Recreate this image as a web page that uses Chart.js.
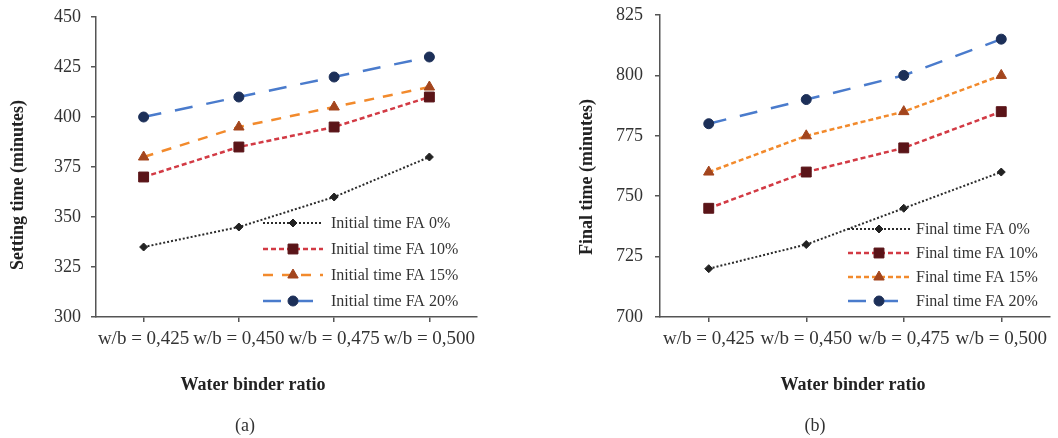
<!DOCTYPE html>
<html lang="en">
<head>
  <meta charset="UTF-8">
  <title>Setting time vs water binder ratio</title>
  <script src="https://cdn.jsdelivr.net/npm/chart.js"></script>
  <style>
    body { margin: 0; background: #fff; }
    .wrap { position: relative; width: 1058px; height: 438px; }
    canvas { position: absolute; top: 0; }
    #chartA { left: 0; }
    #chartB { left: 530px; }
  </style>
</head>
<body>
  <div class="wrap">
    <canvas id="chartA" width="530" height="438"></canvas>
    <canvas id="chartB" width="528" height="438"></canvas>
  </div>

  <script>
    // data
    const ratios = ['w/b = 0,425', 'w/b = 0,450', 'w/b = 0,475', 'w/b = 0,500'];

    const initialFA0 = [335, 345, 360, 380];
    const initialFA10 = [370, 385, 395, 410];
    const initialFA15 = [380, 395, 405, 415];
    const initialFA20 = [400, 410, 420, 430];

    const finalFA0 = [720, 730, 745, 760];
    const finalFA10 = [745, 760, 770, 785];
    const finalFA15 = [760, 775, 785, 800];
    const finalFA20 = [780, 790, 800, 815];

    const serif = "'Liberation Serif', 'Times New Roman', serif";
    const textColor = '#333';
    const axisColor = '#555';

    // line + marker look per fly ash level
    function seriesStyle(level, dash15) {
      const styles = {
        0: { borderColor: '#2b2b2b', borderDash: [2, 2], borderWidth: 2, pointStyle: 'rectRot', pointRadius: 4, pointBackgroundColor: '#222', pointBorderColor: '#222' },
        10: { borderColor: '#d23a44', borderDash: [5, 3], borderWidth: 2.5, pointStyle: 'rect', pointRadius: 7, pointBackgroundColor: '#5a1418', pointBorderColor: '#5a1418' },
        15: { borderColor: '#f28a2c', borderDash: dash15, borderWidth: 2.5, pointStyle: 'triangle', pointRadius: 6, pointBackgroundColor: '#a3451d', pointBorderColor: '#a3451d' },
        20: { borderColor: '#4a7bcc', borderDash: [18, 14], borderWidth: 2.5, pointStyle: 'circle', pointRadius: 5, pointBackgroundColor: '#1c2f58', pointBorderColor: '#1c2f58' }
      };
      return styles[level];
    }

    function makeDatasets(prefix, values, dash15) {
      const levels = [0, 10, 15, 20];
      return levels.map((lv, i) => Object.assign({
        label: prefix + ' FA ' + lv + '%',
        data: values[i],
        fill: false,
        tension: 0,
        pointBorderWidth: 1
      }, seriesStyle(lv, dash15)));
    }

    // legend drawn inside the plot area
    const innerLegend = {
      id: 'innerLegend',
      afterDatasetsDraw(chart, args, opts) {
        const ctx = chart.ctx;
        ctx.save();
        chart.data.datasets.forEach((ds, i) => {
          const y = opts.rows[i];
          ctx.strokeStyle = ds.borderColor;
          ctx.lineWidth = ds.borderWidth;
          ctx.setLineDash(ds.borderDash);
          ctx.beginPath();
          ctx.moveTo(opts.x0, y);
          ctx.lineTo(opts.x1, y);
          ctx.stroke();
          ctx.setLineDash([]);
          ctx.fillStyle = ds.pointBackgroundColor;
          ctx.strokeStyle = ds.pointBorderColor;
          ctx.lineWidth = 1;
          Chart.helpers.drawPoint(ctx, { pointStyle: ds.pointStyle, radius: ds.pointRadius, borderWidth: 1 }, (opts.x0 + opts.x1) / 2, y);
          ctx.fillStyle = textColor;
          ctx.font = '16px ' + serif;
          ctx.textBaseline = 'middle';
          ctx.textAlign = 'left';
          ctx.fillText(ds.label, opts.textX, y + 1);
        });
        ctx.restore();
      }
    };

    // axis titles and sub-figure letter
    const captions = {
      id: 'captions',
      afterDraw(chart, args, opts) {
        const ctx = chart.ctx;
        ctx.save();
        ctx.fillStyle = '#222';
        ctx.textAlign = 'center';
        ctx.textBaseline = 'middle';
        ctx.font = 'bold 18px ' + serif;
        ctx.fillText(opts.xTitle, opts.xTitleX, 385);
        ctx.save();
        ctx.translate(opts.yTitleX, opts.yTitleY);
        ctx.rotate(-Math.PI / 2);
        ctx.fillText(opts.yTitle, 0, 0);
        ctx.restore();
        ctx.font = '18px ' + serif;
        ctx.fillStyle = textColor;
        ctx.fillText(opts.letter, opts.letterX, 426);
        ctx.restore();
      }
    };

    function buildChart(id, datasets, yMin, yMax, axisLeft, padTop, padRight, tickPad, legendOpts, captionOpts) {
      return new Chart(document.getElementById(id), {
        type: 'line',
        data: { labels: ratios, datasets: datasets },
        plugins: [innerLegend, captions],
        options: {
          responsive: false,
          animation: false,
          layout: { padding: { top: padTop, right: padRight, left: 0, bottom: 0 } },
          plugins: {
            legend: { display: false },
            tooltip: { enabled: false },
            innerLegend: legendOpts,
            captions: captionOpts
          },
          scales: {
            x: {
              offset: true,
              grid: { display: true, offset: false, drawOnChartArea: false, drawTicks: true, tickLength: 5, color: axisColor, lineWidth: 1.5 },
              border: { color: axisColor, width: 1.5 },
              ticks: { color: textColor, font: { family: serif, size: 19 }, padding: 6, maxRotation: 0, autoSkip: false },
              afterFit(scale) {
                scale.height = 438 - 317;
                scale.paddingLeft = 0;
                scale.paddingRight = 0;
              }
            },
            y: {
              min: yMin,
              max: yMax,
              grid: { display: true, drawOnChartArea: false, drawTicks: true, tickLength: 5, color: axisColor, lineWidth: 1.5 },
              border: { color: axisColor, width: 1.5 },
              ticks: { stepSize: 25, color: textColor, font: { family: serif, size: 18 }, padding: tickPad },
              afterFit(scale) {
                scale.width = axisLeft;
                scale.paddingTop = 0;
                scale.paddingBottom = 0;
              }
            }
          }
        }
      });
    }

    buildChart('chartA',
      makeDatasets('Initial time', [initialFA0, initialFA10, initialFA15, initialFA20], [10, 9]),
      300, 450, 96, 17, 53, 10,
      { x0: 263, x1: 323, textX: 331, rows: [223, 249, 275, 301] },
      { xTitle: 'Water binder ratio', xTitleX: 253, yTitle: 'Setting time (minutes)', yTitleX: 18, yTitleY: 185, letter: '(a)', letterX: 245 }
    );

    buildChart('chartB',
      makeDatasets('Final time', [finalFA0, finalFA10, finalFA15, finalFA20], [5, 3]),
      700, 825, 130, 15, 4, 12,
      { x0: 318, x1: 380, textX: 386, rows: [229, 253, 277, 301] },
      { xTitle: 'Water binder ratio', xTitleX: 323, yTitle: 'Final time (minutes)', yTitleX: 57, yTitleY: 177, letter: '(b)', letterX: 285 }
    );
  </script>
</body>
</html>
